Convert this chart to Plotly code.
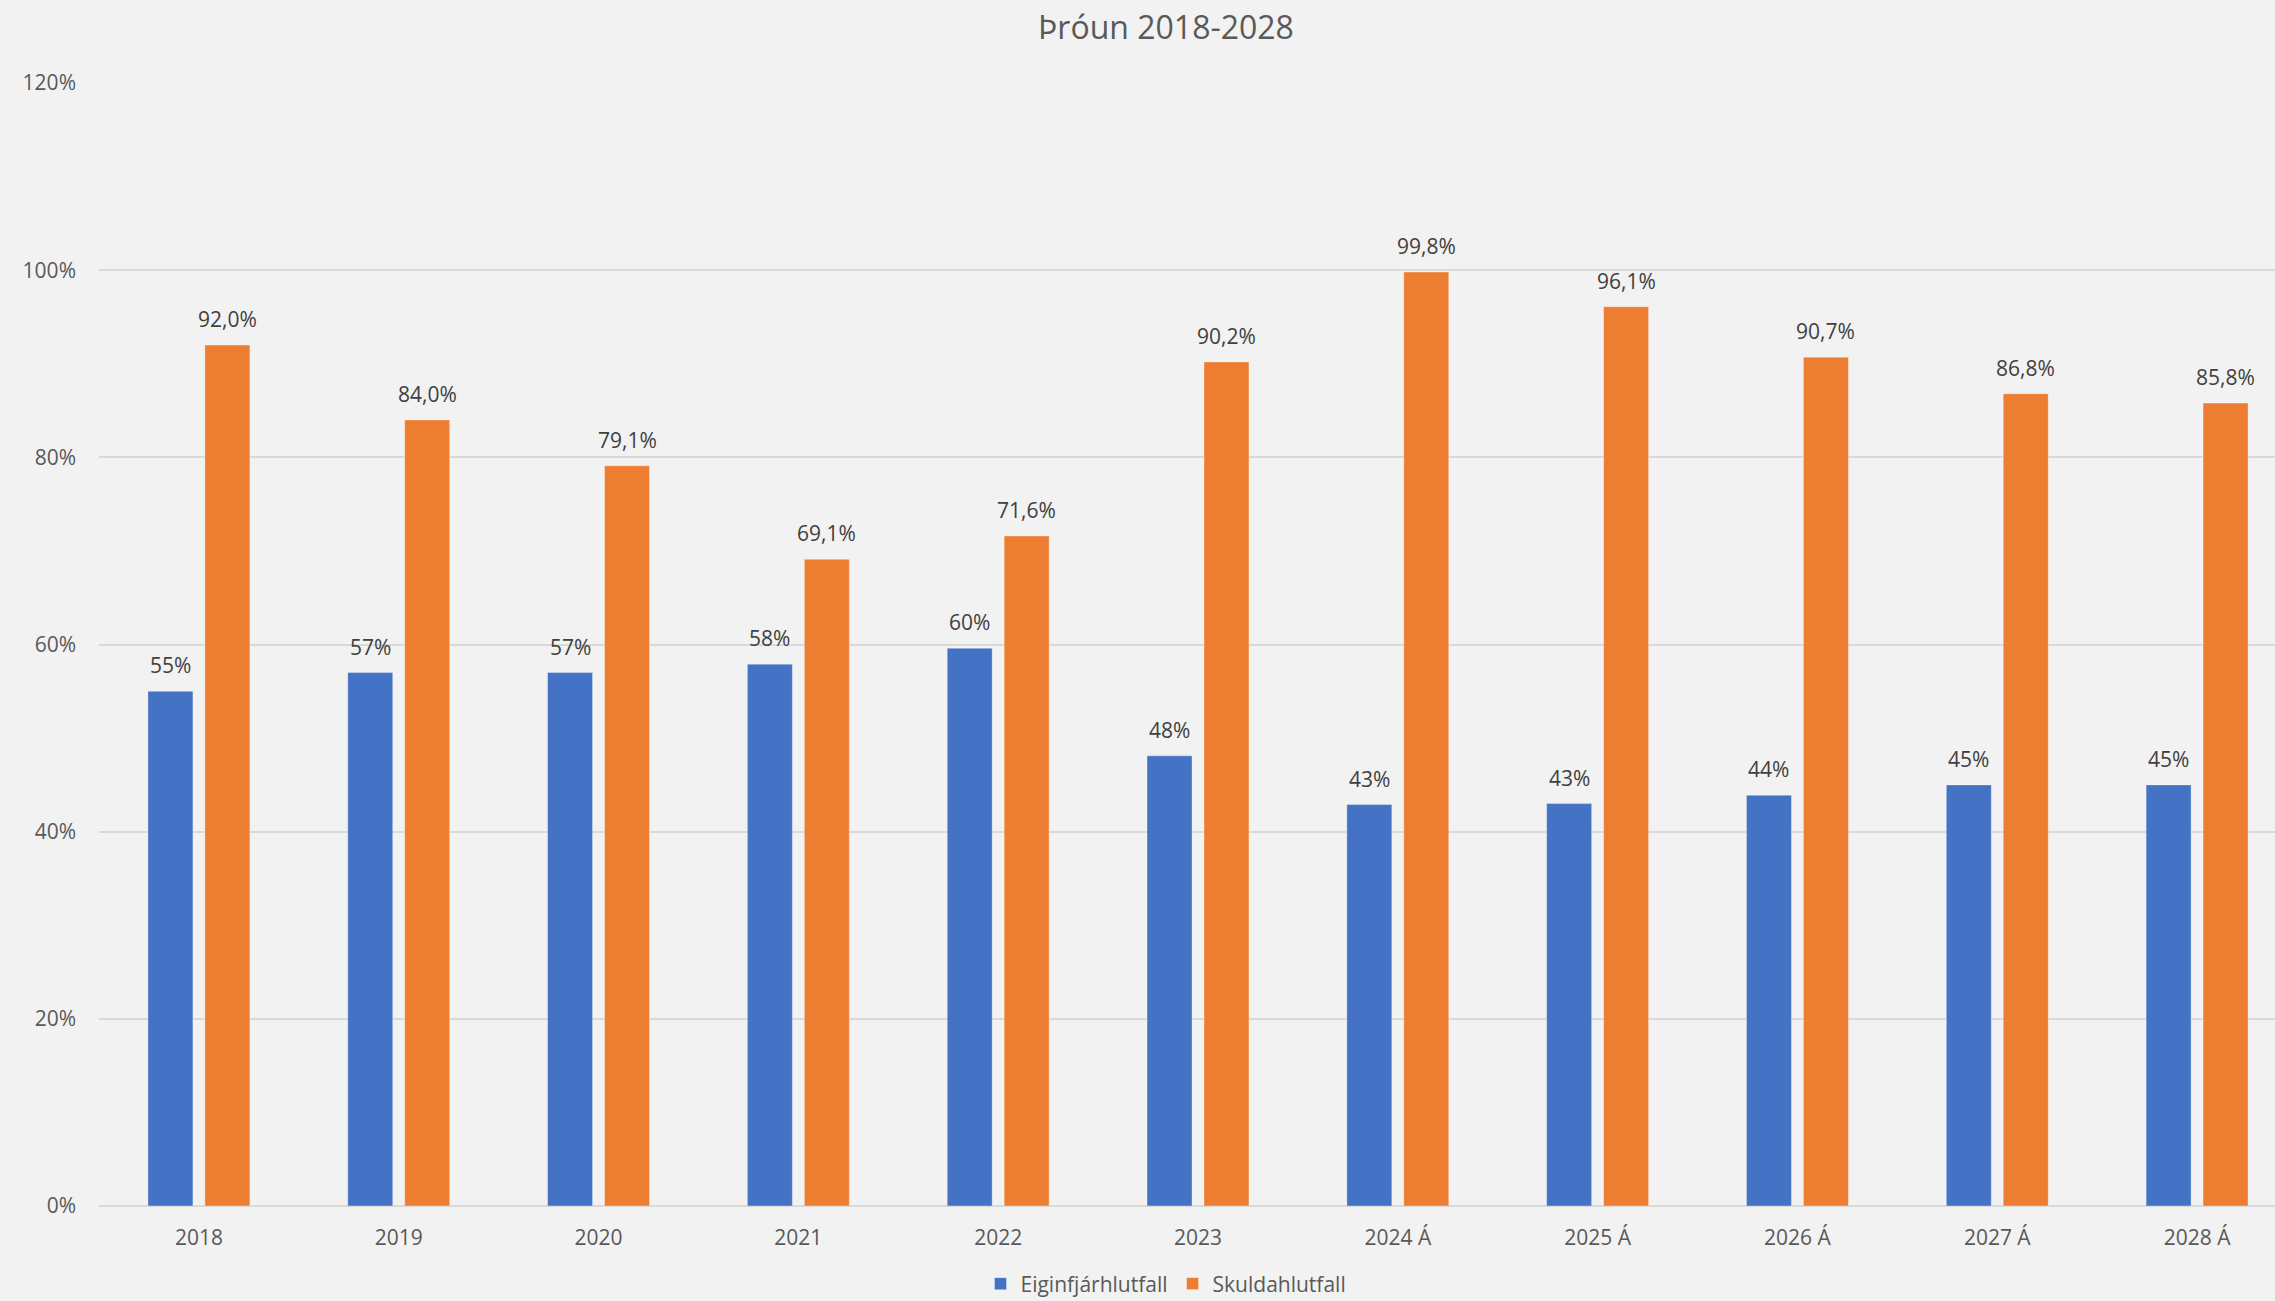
import plotly.graph_objects as go

categories = ["2018", "2019", "2020", "2021", "2022", "2023",
              "2024 Á", "2025 Á", "2026 Á", "2027 Á", "2028 Á"]
eigin = [55.0, 57.0, 57.0, 57.9, 59.6, 48.1, 42.9, 43.0, 43.9, 45.0, 45.0]
skuld = [92.0, 84.0, 79.1, 69.1, 71.6, 90.2, 99.8, 96.1, 90.7, 86.8, 85.8]
y_ticks = [0, 20, 40, 60, 80, 100, 120]

BLUE = "#4472C4"
ORANGE = "#ED7D31"
BG = "#F2F2F2"
GRID = "#D9D9D9"
AXIS_TXT = "#595959"
LABEL_TXT = "#404040"
FONT = "Open Sans"

fig = go.Figure()
fig.add_trace(go.Bar(
    name="Eiginfjárhlutfall", x=categories, y=[v / 100 for v in eigin],
    marker=dict(color=BLUE, line=dict(color="rgba(255,255,255,0.35)", width=1)),
))
fig.add_trace(go.Bar(
    name="Skuldahlutfall", x=categories, y=[v / 100 for v in skuld],
    marker=dict(color=ORANGE, line=dict(color="rgba(255,255,255,0.35)", width=1)),
))

annotations = []
for i, v in enumerate(eigin):
    annotations.append(dict(x=i, y=v / 100, xref="x", yref="y", text=f"{v:.0f}%",
                            showarrow=False, yanchor="bottom", xanchor="center",
                            xshift=-28.5, yshift=10,
                            font=dict(family=FONT, size=21, color=LABEL_TXT)))
for i, v in enumerate(skuld):
    annotations.append(dict(x=i, y=v / 100, xref="x", yref="y",
                            text=f"{v:.1f}".replace(".", ",") + "%",
                            showarrow=False, yanchor="bottom", xanchor="center",
                            xshift=28.5, yshift=10,
                            font=dict(family=FONT, size=21, color=LABEL_TXT)))

fig.update_layout(
    width=2275, height=1301,
    paper_bgcolor=BG, plot_bgcolor=BG,
    separators=",.",
    barmode="group", bargap=0.43, bargroupgap=0.21,
    margin=dict(l=99, r=0, t=83, b=95),
    font=dict(family=FONT, size=21, color=AXIS_TXT),
    title=dict(text="Þróun 2018-2028", x=1166 / 2275, xanchor="center",
               y=1 - 28 / 1301, yanchor="middle",
               font=dict(family=FONT, size=32, color=AXIS_TXT)),
    xaxis=dict(type="category", range=[-0.5, 10.39], showgrid=False,
               showline=False, ticks="", tickfont=dict(size=21, color=AXIS_TXT),
               ticklabelstandoff=17, automargin=False),
    yaxis=dict(range=[0, 1.2], tickvals=[t / 100 for t in y_ticks], tickformat=".0%",
               showgrid=True, gridcolor=GRID, gridwidth=2,
               zeroline=True, zerolinecolor=GRID, zerolinewidth=2,
               showline=False, ticks="", ticklabelstandoff=22,
               tickfont=dict(size=21, color=AXIS_TXT), automargin=False),
    legend=dict(orientation="h", x=1166 / 2275, xref="container", xanchor="center",
                y=(1301 - 1284) / 1301, yref="container", yanchor="middle",
                font=dict(family=FONT, size=21, color=AXIS_TXT), bgcolor="rgba(0,0,0,0)",
                itemwidth=30),
    annotations=annotations,
    showlegend=True,
)

fig.write_html("out.html", config={"displayModeBar": False},
               post_script="document.body.style.margin='0';document.body.style.padding='0';"
                           "document.body.style.background='#F2F2F2';")
